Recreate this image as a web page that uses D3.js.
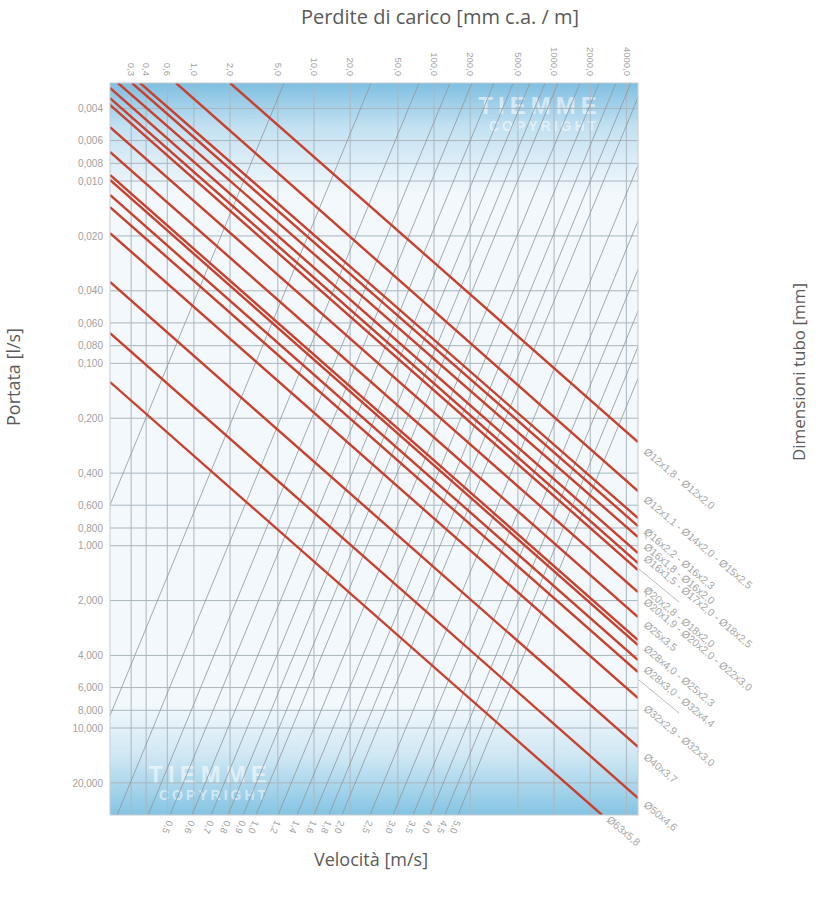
<!DOCTYPE html>
<html>
<head>
<meta charset="utf-8">
<script src="https://cdn.jsdelivr.net/npm/d3@7/dist/d3.min.js"></script>
<style>
  body { margin: 0; background: #fff; }
  svg text { font-family: "Liberation Sans", Arial, sans-serif; }
  .title { font-family: "Open Sans", sans-serif; fill: #5a5a5a; font-size: 17px; }
</style>
</head>
<body>
<svg width="817" height="901"></svg>
<script>
// portata (l/s) - left axis ticks
var flowTicks = [0.004, 0.006, 0.008, 0.010, 0.020, 0.040, 0.060, 0.080, 0.100, 0.200,
                 0.400, 0.600, 0.800, 1.000, 2.000, 4.000, 6.000, 8.000, 10.000, 20.000];
// perdite di carico (mm c.a./m) - top axis ticks
var lossTicks = [0.3, 0.4, 0.6, 1.0, 2.0, 5.0, 10.0, 20.0, 50.0, 100.0, 200.0, 500.0, 1000.0, 2000.0, 4000.0];

// velocity lines: speed, loss where the line meets the bottom (Q=30) and the top (Q=0.0029)
var speeds      = [0.1, 0.2, 0.3, 0.4, 0.5, 0.6, 0.7, 0.8, 0.9, 1.0, 1.2, 1.4, 1.6, 1.8, 2.0, 2.5, 3.0, 3.5, 4.0, 4.5, 5.0];
var speedShown  = [false, false, false, false, true, true, true, true, true, true, true, true, true, true, true, true, true, true, true, true, true];
var speedLossBottom = [0.0172, 0.0911, 0.229, 0.415, 0.632, 0.964, 1.39, 1.92, 2.57, 3.29, 5.02, 7.23, 10.0, 13.3, 17.1, 29.3, 45.5, 66.8, 92.7, 123, 158];
var speedLossTop    = [5.64, 29.9, 75, 136, 207, 316, 456, 629, 842, 1078, 1646, 2370, 3278, 4360, 5605, 9605, 14900, 21900, 30400, 40300, 51800];

// pipe lines (red): start loss/flow and end loss/flow
var pipeLoss1 = [2.0, 0.709, 0.356, 0.305, 0.233, 0.2, 0.2, 0.2, 0.2, 0.2, 0.2, 0.2, 0.2, 0.2, 0.2, 0.2, 0.2, 0.2];
var pipeFlow1 = [0.0029, 0.0029, 0.0029, 0.0029, 0.0029, 0.00309, 0.00351, 0.00383, 0.00506, 0.00693,
                 0.00927, 0.00987, 0.01193, 0.01389, 0.01929, 0.0358, 0.0682, 0.1266];
var pipeLoss2 = [5000, 5000, 5000, 5000, 5000, 5000, 5000, 5000, 5000, 5000, 5000, 5000, 5000, 5000, 5000, 5000, 5000, 2508];
var pipeFlow2 = [0.270, 0.502, 0.706, 0.780, 0.897, 1.098, 1.246, 1.360, 1.797, 2.464,
                 3.295, 3.51, 4.24, 4.94, 6.86, 12.7, 24.2, 30];

// pipe size labels and the flow where each sits on the right edge
var pipeNames = ["Ø12x1,8 - Ø12x2,0", "Ø12x1,1 - Ø14x2,0 - Ø15x2,5", "Ø16x2,2 - Ø16x2,3", "Ø16x1,8 - Ø16x2,0",
                 "Ø16x1,5 - Ø17x2,0 - Ø18x2,5", "Ø20x2,8 - Ø18x2,0", "Ø20x1,9 - Ø20x2,0 - Ø22x3,0", "Ø25x3,5",
                 "Ø28x4,0 - Ø25x2,3", "Ø28x3,0 - Ø32x4,4", "Ø32x2,9 - Ø32x3,0", "Ø40x3,7", "Ø50x4,6"];
var pipeNameFlow = [0.299, 0.548, 0.821, 0.992, 1.155, 1.71, 1.99, 2.66, 3.60, 4.69, 7.68, 14.1, 25.8];
var lastPipeName = "Ø63x5,8";

var svg = d3.select("svg");

var x = d3.scaleLog().domain([0.2, 5000]).range([110, 638]);
var y = d3.scaleLog().domain([0.0029, 30]).range([83, 815]);

var comma = function(f) { return function(d) { return d3.format(f)(d).replace(".", ","); }; };

var defs = svg.append("defs");
var grad = defs.append("linearGradient").attr("id", "bg").attr("x1", 0).attr("y1", 0).attr("x2", 0).attr("y2", 1);
[[0, "#7fbfe1"], [0.06, "#c3e1f2"], [0.15, "#f2f8fc"], [0.85, "#f2f8fc"], [0.92, "#cfe7f4"], [1, "#84c4e3"]]
  .forEach(function(s) { grad.append("stop").attr("offset", s[0]).attr("stop-color", s[1]); });

defs.append("clipPath").attr("id", "plot")
  .append("rect").attr("x", 110).attr("y", 83).attr("width", 528).attr("height", 732);

svg.append("rect").attr("x", 110).attr("y", 83).attr("width", 528).attr("height", 732).attr("fill", "url(#bg)");

// watermark
function mark(cx, cy) {
  svg.append("text").attr("x", cx).attr("y", cy).attr("text-anchor", "middle")
    .style("font-size", "24px").style("font-weight", "bold").style("letter-spacing", "5px")
    .attr("fill", "#fff").attr("opacity", 0.55).text("TIEMME");
  svg.append("text").attr("x", cx + 4).attr("y", cy + 17).attr("text-anchor", "middle")
    .style("font-size", "14px").style("font-weight", "bold").style("letter-spacing", "3px")
    .attr("fill", "#fff").attr("opacity", 0.5).text("COPYRIGHT");
}
mark(540, 114);
mark(210, 783);

var plot = svg.append("g").attr("clip-path", "url(#plot)");

// grid
plot.selectAll(".hg").data(flowTicks).enter().append("line")
  .attr("x1", 110).attr("x2", 638)
  .attr("y1", function(d) { return y(d); }).attr("y2", function(d) { return y(d); })
  .attr("stroke", "#aab6bf").attr("stroke-width", 1);
plot.selectAll(".vg").data(lossTicks).enter().append("line")
  .attr("y1", 83).attr("y2", 815)
  .attr("x1", function(d) { return x(d); }).attr("x2", function(d) { return x(d); })
  .attr("stroke", "#aab6bf").attr("stroke-width", 1);

// velocity lines
plot.selectAll(".vel").data(speeds).enter().append("line")
  .attr("x1", function(d, i) { return x(speedLossBottom[i]); }).attr("y1", y(30))
  .attr("x2", function(d, i) { return x(speedLossTop[i]); }).attr("y2", y(0.0029))
  .attr("stroke", "#8e969c").attr("stroke-width", 0.8);

// pipe lines
plot.selectAll(".pipe").data(pipeFlow1).enter().append("line")
  .attr("x1", function(d, i) { return x(pipeLoss1[i]); }).attr("y1", function(d) { return y(d); })
  .attr("x2", function(d, i) { return x(pipeLoss2[i]); }).attr("y2", function(d, i) { return y(pipeFlow2[i]); })
  .attr("stroke", "#c8402e").attr("stroke-width", 2.4);

svg.append("rect").attr("x", 110).attr("y", 83).attr("width", 528).attr("height", 732)
  .attr("fill", "none").attr("stroke", "#c4ccd2").attr("stroke-width", 1);

// left axis
var ay = svg.append("g").attr("transform", "translate(106,0)")
  .call(d3.axisLeft(y).tickValues(flowTicks).tickFormat(comma(".3f")).tickSize(0));
ay.select(".domain").remove();
ay.selectAll("text").attr("fill", "#a0a0a0").style("font-size", "10px");

// top axis
var ax = svg.append("g").attr("transform", "translate(0,80)")
  .call(d3.axisTop(x).tickValues(lossTicks).tickFormat(comma(".1f")).tickSize(0));
ax.select(".domain").remove();
ax.selectAll("text").attr("fill", "#a0a0a0").style("font-size", "9.5px")
  .attr("text-anchor", "end").attr("dy", "0.35em")
  .attr("transform", "translate(0,-4) rotate(90)").attr("x", 0).attr("y", 0);

// bottom velocity labels
svg.selectAll(".vlab").data(speeds.filter(function(d, i) { return speedShown[i]; })).enter().append("text")
  .attr("transform", function(d) { var i = speeds.indexOf(d); return "translate(" + x(speedLossBottom[i]) + ",821) rotate(112)"; })
  .attr("dy", "0.35em").attr("fill", "#a0a0a0").style("font-size", "9.5px")
  .text(comma(".1f"));

// pipe labels
var lab = svg.append("g").attr("fill", "#a8a8a8").style("font-size", "10.5px");
lab.selectAll(".plab").data(pipeNames).enter().append("text")
  .attr("transform", function(d, i) { return "translate(643," + (y(pipeNameFlow[i]) + 3) + ") rotate(40)"; })
  .text(function(d) { return d; });
lab.append("text")
  .attr("transform", "translate(" + (x(2508) + 4) + "," + (y(30) + 6) + ") rotate(40)")
  .text(lastPipeName);

// small leaders next to the grouped labels
var lead = svg.append("g").attr("stroke", "#b4b4b4").attr("fill", "none").attr("stroke-width", 0.9);
[2, 5].forEach(function(i) {
  var yy = y(pipeNameFlow[i]);
  lead.append("path").attr("d", "M646," + (yy + 9) + "V" + (yy + 1) + "H652");
});
[4, 9].forEach(function(i) {
  var yy = y(pipeNameFlow[i]);
  lead.append("path").attr("d", "M639," + (yy + 12) + "L" + 679 + "," + (yy + 45));
});

// titles
svg.append("text").attr("class", "title").attr("x", 440).attr("y", 24).attr("text-anchor", "middle")
  .style("font-size", "20px").text("Perdite di carico [mm c.a. / m]");
svg.append("text").attr("class", "title").attr("x", 371).attr("y", 866).attr("text-anchor", "middle")
  .style("font-size", "18px").text("Velocità [m/s]");
svg.append("text").attr("class", "title").attr("text-anchor", "middle")
  .attr("transform", "translate(20,377) rotate(-90)").style("font-size", "18px").text("Portata [l/s]");
svg.append("text").attr("class", "title").attr("text-anchor", "middle")
  .attr("transform", "translate(805,372) rotate(-90)").text("Dimensioni tubo [mm]");
</script>
</body>
</html>
